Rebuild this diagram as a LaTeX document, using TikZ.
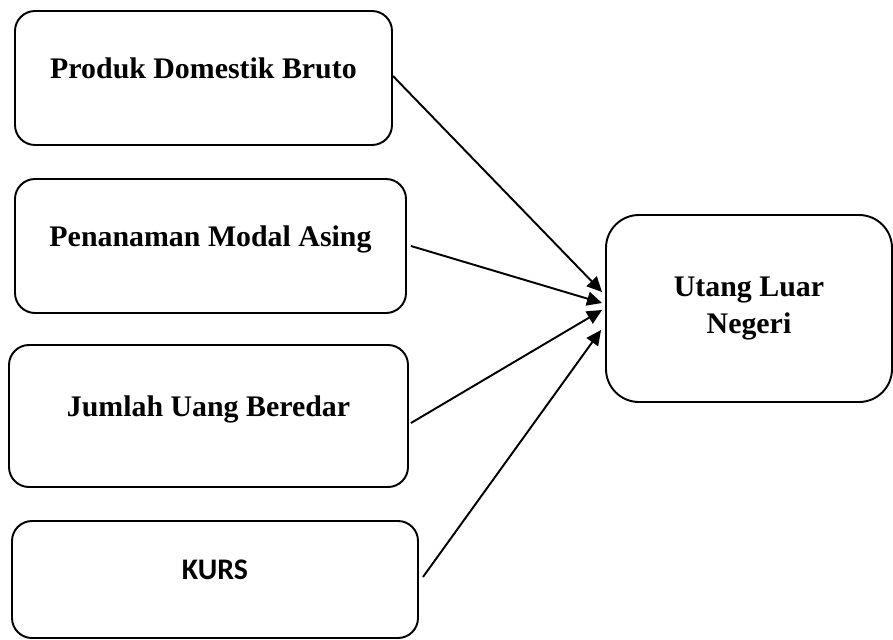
\documentclass[tikz,border=0pt]{standalone}
\usepackage{fontspec}
\setmainfont{Liberation Serif}
\newfontfamily\kursfont{Carlito}
\usepackage{tikz}
\usetikzlibrary{arrows.meta}

\begin{document}
\begin{tikzpicture}[
    var/.style={draw, line width=1.1pt, rectangle, rounded corners=0.4cm, minimum height=2.68cm, align=center, font=\fontsize{17}{21}\selectfont\bfseries, text height=12pt, text depth=12pt},
    dep/.style={draw, line width=1.1pt, rectangle, rounded corners=0.66cm, minimum width=5.72cm, minimum height=3.74cm, align=center, font=\fontsize{17}{21.5}\selectfont\bfseries},
    arr/.style={line width=1.1pt, -{Triangle[length=0.3cm, width=0.28cm]}}
]
    \useasboundingbox (0,0) rectangle (17.86,-12.78);

    \node [var, minimum width=7.54cm] (pdb) at (4.07,-1.56) {Produk Domestik Bruto};
    \node [var, minimum width=7.82cm] (pma) at (4.21,-4.92) {Penanaman Modal Asing};
    \node [var, minimum width=7.98cm, minimum height=2.84cm] (jub) at (4.17,-8.32) {Jumlah Uang Beredar};
    \node [var, minimum width=8.12cm, minimum height=2.34cm, font=\fontsize{17}{21}\selectfont\kursfont\bfseries] (kurs) at (4.30,-11.59) {KURS};

    \node [dep] (uln) at (14.98,-6.17) {Utang Luar\\Negeri};

    \draw [arr] ([yshift=0.04cm]pdb.east) -- ([xshift=-0.06cm, yshift=0.33cm]uln.west);
    \draw [arr] ([xshift=0.08cm]pma.east) -- ([xshift=-0.06cm, yshift=0.11cm]uln.west);
    \draw [arr] ([xshift=0.04cm, yshift=-0.14cm]jub.east) -- ([xshift=-0.06cm, yshift=-0.03cm]uln.west);
    \draw [arr] ([xshift=0.08cm, yshift=0.05cm]kurs.east) -- ([xshift=-0.08cm, yshift=-0.43cm]uln.west);
\end{tikzpicture}
\end{document}
